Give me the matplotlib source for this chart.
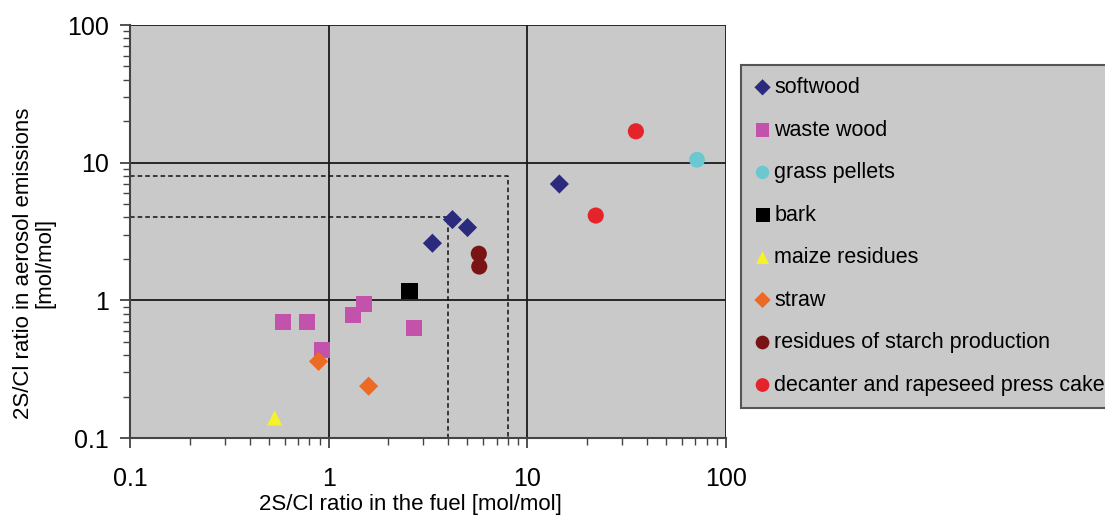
import matplotlib
matplotlib.use("Agg")
import matplotlib.pyplot as plt

plt.rcParams['font.family'] = ['Liberation Sans', 'DejaVu Sans']

# 2S/Cl ratio in fuel (x) and in aerosol emissions (y), mol/mol
softwood_x = [3.33, 4.2, 5.0, 14.5]
softwood_y = [2.6, 3.86, 3.38, 7.0]
wastewood_x = [0.59, 0.775, 0.93, 1.32, 1.51, 2.7]
wastewood_y = [0.70, 0.70, 0.434, 0.78, 0.935, 0.627]
grass_x = [71.5]
grass_y = [10.5]
bark_x = [2.55]
bark_y = [1.17]
maize_x = [0.535]
maize_y = [0.14]
straw_x = [0.89, 1.59]
straw_y = [0.36, 0.238]
starch_x = [5.7, 5.73]
starch_y = [2.18, 1.76]
decanter_x = [35.2, 22.1]
decanter_y = [16.9, 4.13]

# dashed guide corners
guide_levels = [8, 4]

series = [
    ("softwood", softwood_x, softwood_y, "D", "#2b2a7c", 95),
    ("waste wood", wastewood_x, wastewood_y, "s", "#c252aa", 130),
    ("grass pellets", grass_x, grass_y, "o", "#6cc8d0", 130),
    ("bark", bark_x, bark_y, "s", "#000000", 140),
    ("maize residues", maize_x, maize_y, "^", "#f6f22a", 120),
    ("straw", straw_x, straw_y, "D", "#ec6a24", 95),
    ("residues of starch production", starch_x, starch_y, "o", "#7a1414", 135),
    ("decanter and rapeseed press cake", decanter_x, decanter_y, "o", "#e5232a", 135),
]

fig = plt.figure(figsize=(11.05, 5.17), dpi=100)
ax = fig.add_axes([0.1176, 0.1528, 0.5394, 0.7988])
ax.set_facecolor("#c9c9c9")

ax.set_xscale("log")
ax.set_yscale("log")
ax.set_xlim(0.1, 100)
ax.set_ylim(0.1, 100)

ax.grid(True, which="major", color="#1a1a1a", lw=1.3)
ax.set_axisbelow(True)

for lev in guide_levels:
    ax.plot([0.1, lev, lev], [lev, lev, 0.1], color="#111111", lw=1.1,
            ls=(0, (3, 2)), zorder=2)

for name, xs, ys, mk, col, s in series:
    ax.scatter(xs, ys, marker=mk, s=s, color=col, label=name, zorder=3,
               edgecolors="none")

for side in ["top", "right"]:
    ax.spines[side].set_visible(False)
for side in ["left", "bottom"]:
    ax.spines[side].set_color("#444444")
    ax.spines[side].set_linewidth(1.5)

ax.set_xticks([0.1, 1, 10, 100])
ax.set_xticklabels(["0.1", "1", "10", "100"])
ax.set_yticks([0.1, 1, 10, 100])
ax.set_yticklabels(["0.1", "1", "10", "100"])
ax.tick_params(which="major", length=7, width=1.3, color="#444444",
               labelsize=18, pad=8)
ax.tick_params(which="minor", length=5, width=1.0, color="#444444")
ax.tick_params(axis="x", which="major", pad=14)

ax.set_xlabel("2S/Cl ratio in the fuel [mol/mol]", fontsize=16)
ax.set_ylabel("2S/Cl ratio in aerosol emissions\n[mol/mol]", fontsize=16,
              linespacing=1.0)
ax.xaxis.set_label_coords(0.471, -0.135)
ax.yaxis.set_label_coords(-0.125, 0.424)

leg = fig.legend(loc="upper left", bbox_to_anchor=(0.6706, 0.874),
                 fontsize=15.5, frameon=True, fancybox=False,
                 handletextpad=0.1, handlelength=0.9, labelspacing=1.0,
                 borderpad=0.55, borderaxespad=0, scatterpoints=1,
                 markerscale=0.85)
leg.get_frame().set_facecolor("#c9c9c9")
leg.get_frame().set_edgecolor("#555555")
leg.get_frame().set_linewidth(1.5)
leg.get_frame().set_alpha(1)

fig.savefig("out.png", dpi=100)
